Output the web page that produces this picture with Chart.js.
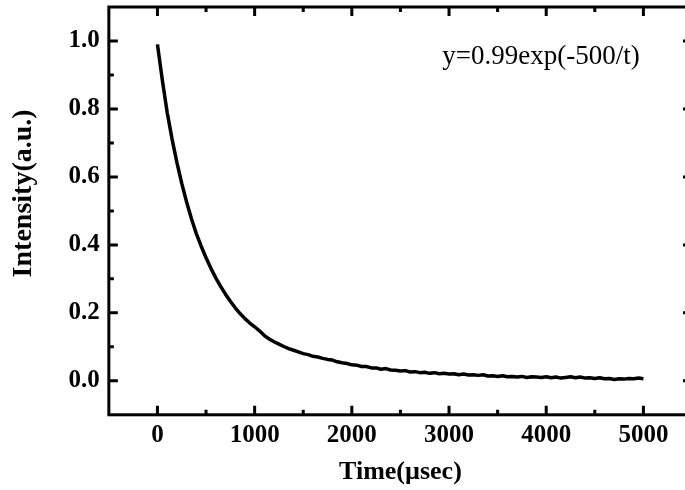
<!DOCTYPE html>
<html>
<head>
<meta charset="utf-8">
<script src="https://cdn.jsdelivr.net/npm/chart.js@4.4.1/dist/chart.umd.min.js"></script>
<style>
  html, body { margin: 0; padding: 0; background: #fff; overflow: hidden; }
  #wrap { position: relative; width: 700px; height: 490px; }
</style>
</head>
<body>
<div id="wrap"><canvas id="decayChart"></canvas></div>
<script>
// decay trace (time in µs, normalised intensity)
const timeUs = [
  0, 50, 100, 150, 200, 250, 300, 350, 400, 450,
  500, 550, 600, 650, 700, 750, 800, 850, 900, 950,
  1000, 1050, 1100, 1150, 1200, 1250, 1300, 1350, 1400, 1450,
  1500, 1550, 1600, 1650, 1700, 1750, 1800, 1850, 1900, 1950,
  2000, 2050, 2100, 2150, 2200, 2250, 2300, 2350, 2400, 2450,
  2500, 2550, 2600, 2650, 2700, 2750, 2800, 2850, 2900, 2950,
  3000, 3050, 3100, 3150, 3200, 3250, 3300, 3350, 3400, 3450,
  3500, 3550, 3600, 3650, 3700, 3750, 3800, 3850, 3900, 3950,
  4000, 4050, 4100, 4150, 4200, 4250, 4300, 4350, 4400, 4450,
  4500, 4550, 4600, 4650, 4700, 4750, 4800, 4850, 4900, 4950,
  5000
];
const intensity = [
  0.990, 0.885, 0.790, 0.712, 0.643, 0.581, 0.526, 0.477, 0.433, 0.396,
  0.362, 0.331, 0.303, 0.278, 0.255, 0.234, 0.215, 0.198, 0.183, 0.170,
  0.159, 0.147, 0.133, 0.123, 0.115, 0.108, 0.101, 0.095, 0.090, 0.085,
  0.080, 0.077, 0.072, 0.070, 0.066, 0.063, 0.061, 0.056, 0.053, 0.051,
  0.047, 0.046, 0.042, 0.042, 0.038, 0.038, 0.034, 0.036, 0.032, 0.031,
  0.029, 0.030, 0.026, 0.027, 0.024, 0.025, 0.022, 0.024, 0.021, 0.022,
  0.020, 0.021, 0.018, 0.020, 0.017, 0.018, 0.016, 0.018, 0.014, 0.015,
  0.013, 0.015, 0.012, 0.013, 0.011, 0.013, 0.010, 0.012, 0.011, 0.010,
  0.012, 0.009, 0.011, 0.008, 0.010, 0.012, 0.009, 0.011, 0.008, 0.009,
  0.007, 0.009, 0.006, 0.007, 0.004, 0.006, 0.005, 0.007, 0.006, 0.008,
  0.006
];
const xTicks = [0, 1000, 2000, 3000, 4000, 5000];
const xMinorTicks = [500, 1500, 2500, 3500, 4500];
const yTicks = [0.0, 0.2, 0.4, 0.6, 0.8, 1.0];
const yMinorTicks = [0.1, 0.3, 0.5, 0.7, 0.9];
const fitLabel = 'y=0.99exp(-500/t)';

Chart.defaults.font.family = '"Liberation Serif", "Times New Roman", serif';
Chart.defaults.color = '#000';

// closed frame with inward ticks on all four sides, plus the fit label
const frameTicks = {
  id: 'frameTicks',
  afterDraw(chart) {
    const { ctx, chartArea: a, scales: { x, y } } = chart;
    ctx.save();
    ctx.strokeStyle = '#000';
    ctx.lineWidth = 3;
    ctx.strokeRect(a.left, a.top, a.right - a.left, a.bottom - a.top);

    ctx.beginPath();
    const xMarks = (vals, len) => vals.forEach(v => {
      const px = x.getPixelForValue(v);
      ctx.moveTo(px, a.bottom); ctx.lineTo(px, a.bottom - len);
      ctx.moveTo(px, a.top); ctx.lineTo(px, a.top + len);
    });
    const yMarks = (vals, len) => vals.forEach(v => {
      const py = y.getPixelForValue(v);
      ctx.moveTo(a.left, py); ctx.lineTo(a.left + len, py);
      ctx.moveTo(a.right, py); ctx.lineTo(a.right - len, py);
    });
    xMarks(xTicks, 9);
    xMarks(xMinorTicks, 5);
    yMarks(yTicks, 9);
    yMarks(yMinorTicks, 5);
    ctx.stroke();

    ctx.fillStyle = '#000';
    ctx.font = '27px "Liberation Serif"';
    ctx.textAlign = 'left';
    ctx.textBaseline = 'alphabetic';
    ctx.fillText(fitLabel, x.getPixelForValue(2930), y.getPixelForValue(0.932));
    ctx.restore();
  }
};

// labels sit well inside the range, so no edge padding is needed
const noEdgePad = s => {
  s.paddingTop = 0; s.paddingBottom = 0;
  s.paddingLeft = 0; s.paddingRight = 0;
};

new Chart(document.getElementById('decayChart'), {
  type: 'line',
  data: {
    datasets: [{
      data: timeUs.map((t, i) => ({ x: t, y: intensity[i] })),
      borderColor: '#000',
      borderWidth: 3.5,
      borderJoinStyle: 'round',
      pointRadius: 0,
      tension: 0
    }]
  },
  options: {
    responsive: true,
    maintainAspectRatio: false,
    animation: false,
    layout: { padding: { top: 7, right: 8, bottom: 0, left: 0 } },
    plugins: { legend: { display: false }, tooltip: { enabled: false } },
    scales: {
      x: {
        type: 'linear',
        min: -500,
        max: 5500,
        afterBuildTicks: s => { s.ticks = xTicks.map(v => ({ value: v })); },
        afterFit: noEdgePad,
        grid: { display: false, drawTicks: false },
        border: { display: false },
        ticks: {
          font: { size: 25, weight: 'bold' },
          padding: 6, maxRotation: 0, autoSkip: false,
          callback: v => String(v)
        },
        title: {
          display: true,
          text: 'Time(µsec)',
          font: { size: 26, weight: 'bold' },
          padding: { top: 0, bottom: 2 }
        }
      },
      y: {
        min: -0.1,
        max: 1.1,
        afterBuildTicks: s => { s.ticks = yTicks.map(v => ({ value: v })); },
        afterFit: noEdgePad,
        grid: { display: false, drawTicks: false },
        border: { display: false },
        ticks: { font: { size: 25, weight: 'bold' }, padding: 9, callback: v => v.toFixed(1) },
        title: {
          display: true,
          text: '     Intensity(a.u.)',
          font: { size: 28, weight: 'bold' },
          padding: { top: 7, bottom: 19 }
        }
      }
    }
  },
  plugins: [frameTicks]
});
</script>
</body>
</html>
